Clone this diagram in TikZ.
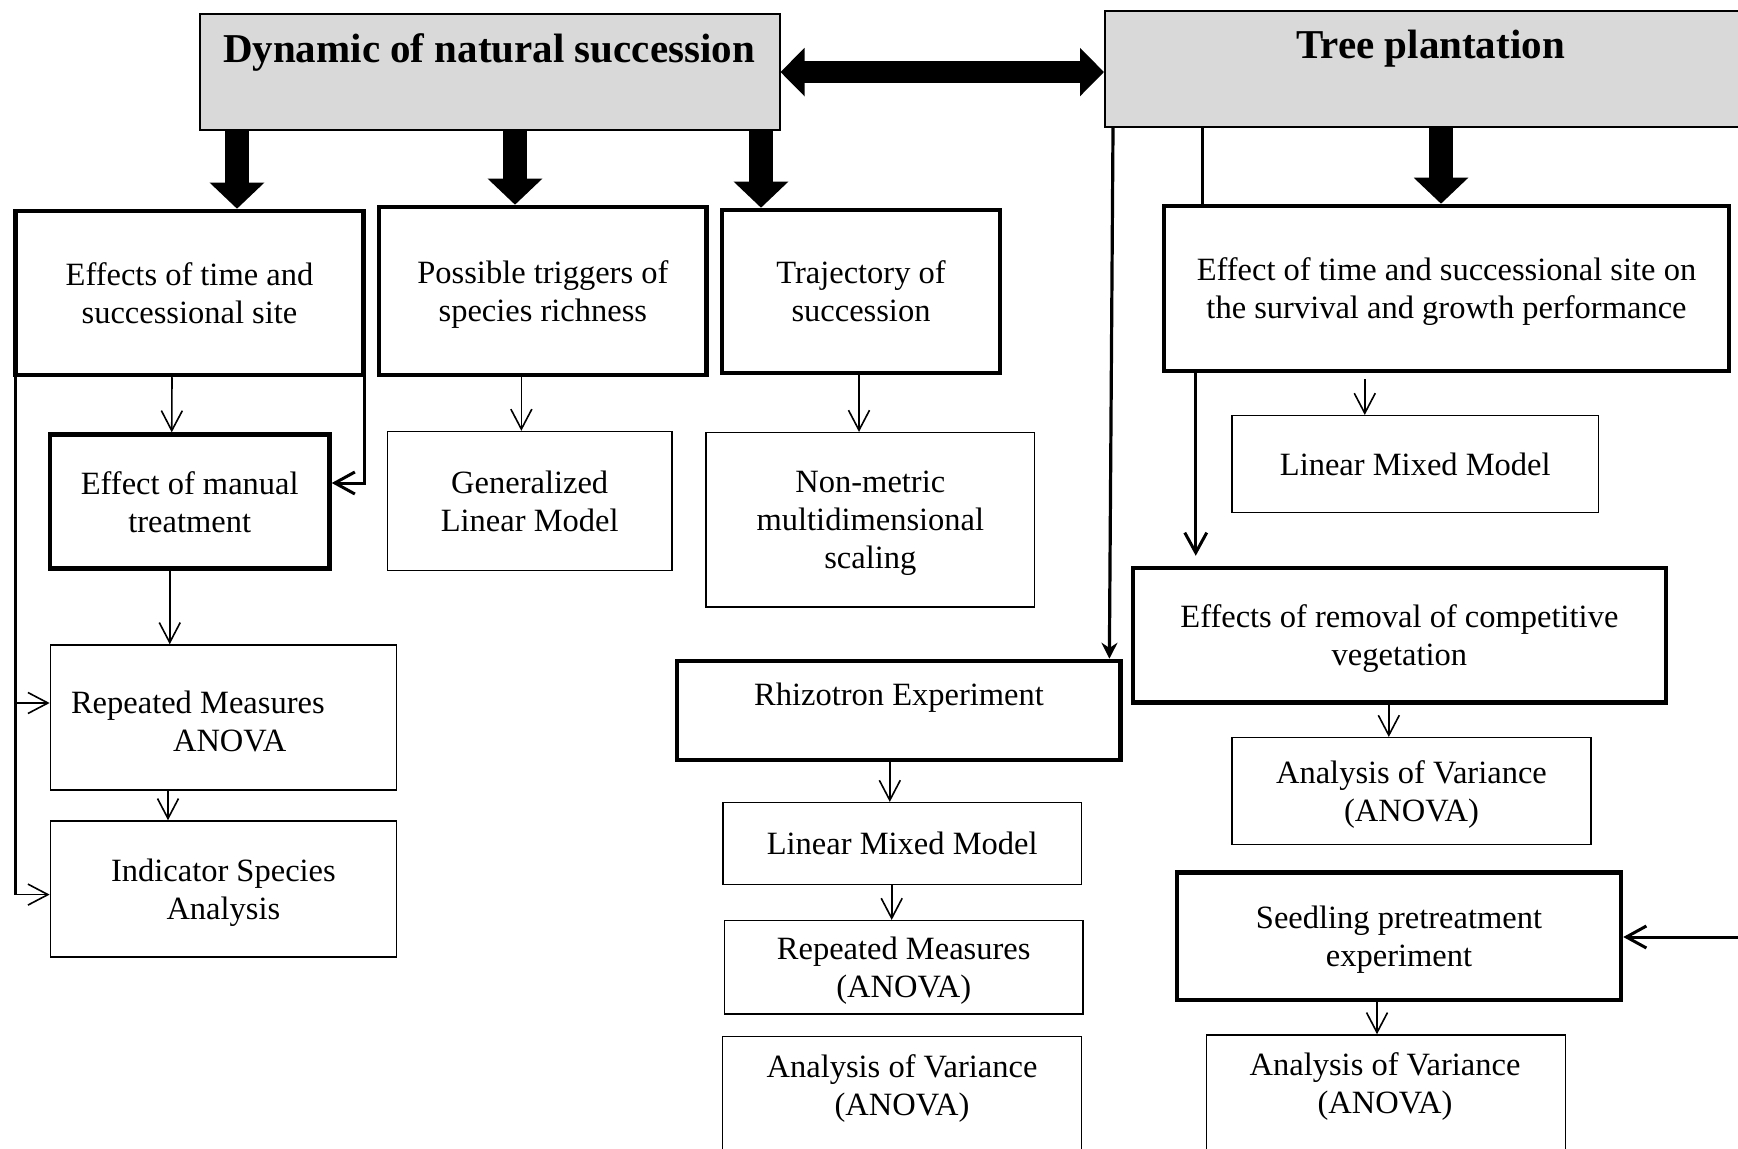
\documentclass[tikz,border=0pt]{standalone}
\usepackage{fontspec}
\setmainfont{Liberation Serif}
\usetikzlibrary{arrows.meta,calc}

\definecolor{headgray}{HTML}{D9D9D9}
\newcommand\bodyfont{\fontsize{16.25}{19}\selectfont}
\newcommand\headfont{\fontsize{20.5}{24}\selectfont\bfseries}

% rectangle node given by its corners (x1,y1) and (x2,y2)
\newcommand\placebox[7]{%
  \node[#1, minimum width={(#5-#3)*0.5pt}, minimum height={(#6-#4)*0.5pt}]
    (#2) at ({(#3+#5)/2},{(#4+#6)/2}) {#7};}

\tikzset{
  box/.style={draw, inner sep=0pt, align=center, font=\bodyfont, text depth=0pt},
  thinbox/.style={box, line width=0.75pt},
  thickbox/.style={box, line width=2.25pt},
  headbox/.style={box, fill=headgray, line width=1pt},
  txt/.style={inner sep=0pt, align=center, font=\bodyfont},
  headtxt/.style={inner sep=0pt, font=\headfont},
  thinarrow/.style={line width=0.8pt, -{Straight Barb[length=10pt,width=10.5pt]}},
  medarrow/.style={line width=1.5pt, -{Straight Barb[length=10pt,width=11pt]}},
  medline/.style={line width=1.5pt},
  filledarrow/.style={line width=1.6pt, -{Stealth[length=8pt,width=8pt]}},
  bigarrow/.style={line width=12pt, -{Triangle[length=13pt,width=26.5pt]}},
  twowayarrow/.style={line width=11pt, {Triangle[length=12pt,width=23.5pt]}-{Triangle[length=12pt,width=23.5pt]}},
}

\begin{document}
\begin{tikzpicture}[x=0.5pt, y=-0.5pt]
\useasboundingbox (0,0) rectangle (1738,1149);
\clip (0,0) rectangle (1738,1149);

% ---- headings
\placebox{headbox}{A}{199.5}{14.4}{779.5}{129.7}{}
\node[headtxt, anchor=base] (At) at (489,63) {Dynamic of natural succession};
\placebox{headbox}{B}{1105}{11}{1762}{127}{}
\node[headtxt, anchor=base] (Bt) at (1430.6,59) {Tree plantation};

% ---- natural succession branch
\placebox{thickbox}{C}{15.5}{211}{363.5}{375}{Effects of time and\\successional site}
\placebox{thickbox}{D}{379}{207}{706.7}{375}{Possible triggers of\\species richness}
\placebox{thickbox}{E}{722}{210}{1000}{373}{Trajectory of\\succession}
\placebox{thickbox}{MT}{50}{434.6}{329.5}{568.6}{Effect of manual\\treatment}
\placebox{thinbox}{GLM}{387.5}{431.6}{671.9}{570.5}{Generalized\\Linear Model}
\placebox{thinbox}{NMDS}{706}{432.7}{1034.7}{607}{Non-metric\\multidimensional\\scaling}
\placebox{thinbox}{RM1}{50.4}{645}{396.4}{789.8}{}
\node[txt, anchor=west, align=left] (RM1t) at ($(RM1.west)+(21,4)$)
  {Repeated Measures\\\hspace*{51pt}ANOVA};
\placebox{thinbox}{IS}{50.4}{821}{396.4}{957}{Indicator Species\\Analysis}

% ---- plantation branch
\placebox{thickbox}{F}{1164}{206}{1729}{371}{Effect of time and successional site on\\the survival and growth performance}
\placebox{thinbox}{LM1}{1232}{415.7}{1598.5}{512.7}{Linear Mixed Model}
\placebox{thickbox}{ER}{1133}{568}{1665.8}{702.7}{Effects of removal of competitive\\vegetation}
\placebox{thinbox}{AV1}{1232}{737.7}{1590.9}{844.3}{Analysis of Variance\\(ANOVA)}
\placebox{thickbox}{R}{677}{661}{1120.6}{760}{}
\node[txt, anchor=base] (Rt) at (899,705) {Rhizotron Experiment};
\placebox{thinbox}{LM2}{723}{802.7}{1081.4}{884.3}{Linear Mixed Model}
\placebox{thinbox}{RM2}{724.6}{920.7}{1082.8}{1014}{Repeated Measures\\(ANOVA)}
\placebox{thinbox}{AV2}{722.6}{1036.7}{1081.4}{1170}{}
\node[txt] (AV2t) at (902,1089) {Analysis of Variance\\(ANOVA)};
\placebox{thickbox}{SP}{1177}{872.3}{1621}{1000}{Seedling pretreatment\\experiment}
\placebox{thinbox}{AV3}{1206.6}{1035}{1565.5}{1170}{}
\node[txt] (AV3t) at (1385,1087) {Analysis of Variance\\(ANOVA)};

% ---- heavy connectors
\draw[twowayarrow] (A.east) -- (A.east -| B.west);
\draw[bigarrow] ($(A.south west)+(38.5,0)$) coordinate (a1) -- (a1 |- C.north);
\draw[bigarrow] ($(A.south west)+(316.5,0)$) coordinate (a2) -- (a2 |- D.north);
\draw[bigarrow] ($(A.south west)+(562.5,0)$) coordinate (a3) -- (a3 |- E.north);
\draw[bigarrow] ($(B.south west)+(337,0)$) coordinate (b1) -- (b1 |- F.north);

% ---- natural succession connectors
\draw[thinarrow] ($(C.south)+(-17.5,0)$) -- ($(MT.north)+(-18,0)$);
\draw[medarrow] ($(C.south east)+(-1,0)$) |- ($(MT.east)+(0,-18.6)$);
\coordinate (cl) at ($(C.south west)+(2.5,0)$);
\coordinate (RMa) at ($(RM1.west)+(0,-14.4)$);
\coordinate (ISa) at ($(IS.west)+(0,5.6)$);
\draw[medline] (cl) -- (cl |- ISa);
\draw[thinarrow] (cl |- RMa) -- (RMa);
\draw[thinarrow] (cl |- ISa) -- (ISa);
\draw[thinarrow] ($(MT.south)+(-20,0)$) coordinate (m1) -- (m1 |- RM1.north);
\draw[thinarrow] ($(RM1.south)+(-55.4,0)$) coordinate (r1) -- (r1 |- IS.north);
\draw[thinarrow] ($(D.south)+(-21.5,0)$) coordinate (d1) -- (d1 |- GLM.north);
\draw[thinarrow] ($(E.south)+(-2,0)$) coordinate (e1) -- (e1 |- NMDS.north);

% ---- plantation connectors
\draw[medline] ($(B.south west)+(98,0)$) coordinate (b2) -- (b2 |- F.north);
\draw[filledarrow] ($(B.south west)+(9,0)$) -- ($(R.north east)+(-13.5,0)$);
\draw[medarrow, shorten >=5pt] ($(F.south west)+(34,0)$) coordinate (f1) -- (f1 |- ER.north);
\coordinate (f2x) at ($(LM1.north)+(-50.5,0)$);
\draw[thinarrow, shorten <=3pt] (f2x |- F.south) -- (f2x);
\draw[thinarrow] ($(ER.south)+(-10.6,0)$) coordinate (e2) -- (e2 |- AV1.north);
\draw[thinarrow] ($(R.south)+(-9,0)$) coordinate (r2) -- (r2 |- LM2.north);
\draw[thinarrow] ($(LM2.south)+(-10.5,0)$) coordinate (l2) -- (l2 |- RM2.north);
\draw[thinarrow] ($(SP.south)+(-22,0)$) coordinate (s1) -- (s1 |- AV3.north);
\coordinate (edge) at (1745,937);
\draw[medarrow] (edge) -- (edge -| SP.east);
\end{tikzpicture}
\end{document}
